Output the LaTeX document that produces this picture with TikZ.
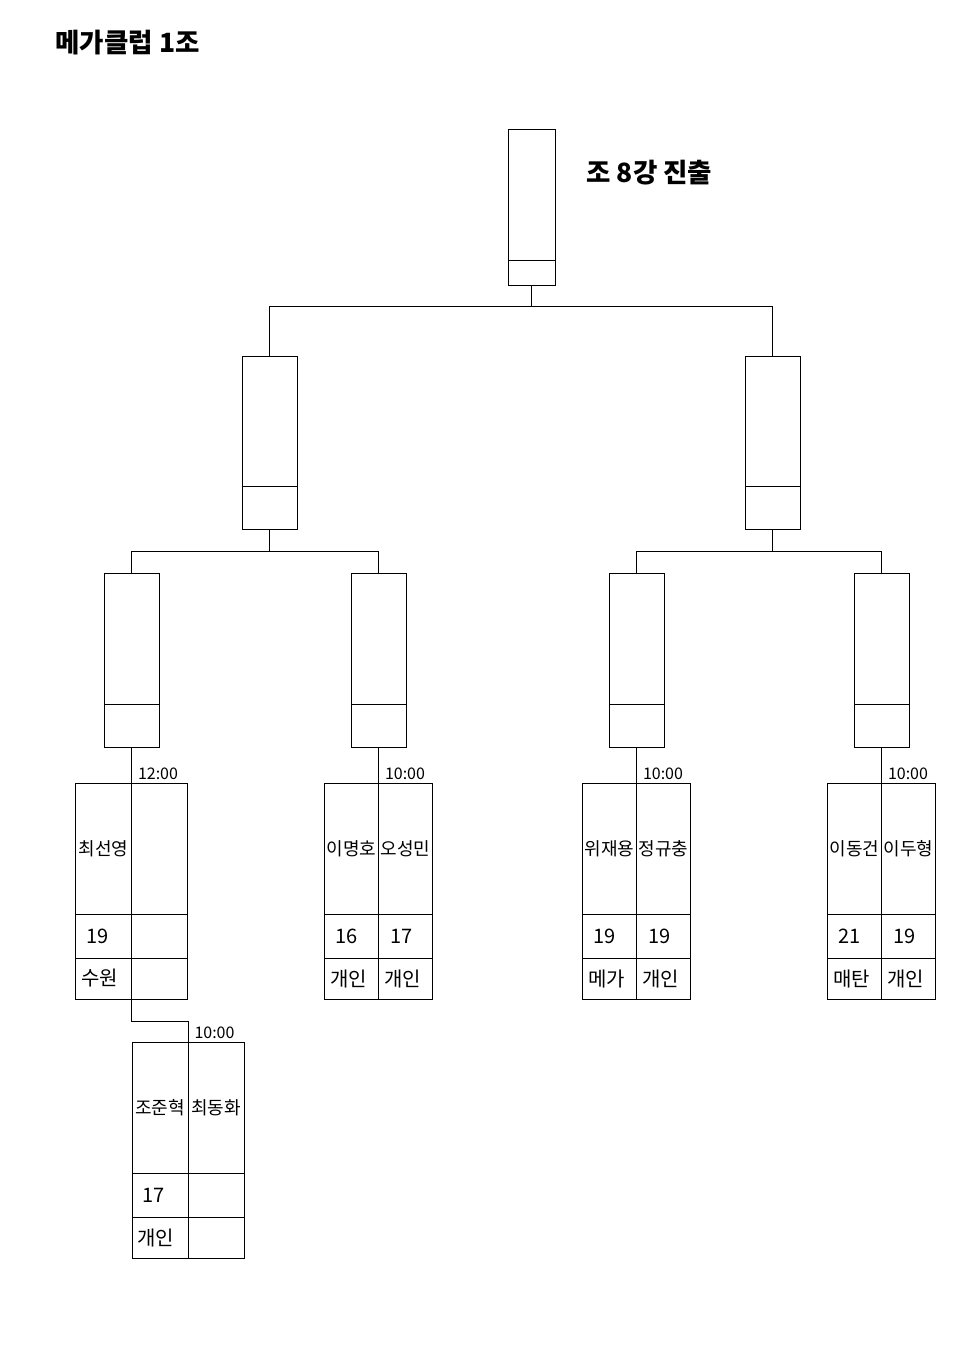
\documentclass[tikz,border=0pt]{standalone}
\usepackage{fontspec}
\setmainfont{Noto Sans CJK KR}
\usetikzlibrary{positioning}

\tikzset{
  slot/.style={draw, minimum width=55, minimum height=174, inner sep=0pt, outer sep=0pt},
  cell/.style={draw, inner sep=0pt, outer sep=0pt, minimum width=54},
  namecell/.style={cell, minimum height=131, font=\fontsize{18}{18}\selectfont},
  numcell/.style={cell, minimum height=44},
  teamcell/.style={cell, minimum height=41},
  celltxt/.style={anchor=west, inner sep=0pt, font=\fontsize{20}{20}\selectfont},
  timetxt/.style={anchor=south west, inner sep=1pt, font=\fontsize{16}{16}\selectfont},
  heading/.style={anchor=west, inner sep=0pt, font=\fontsize{26.5}{26.5}\selectfont\bfseries},
}

\begin{document}
\begin{tikzpicture}[x=1pt, y=-1pt, line width=1pt]
\useasboundingbox (0,0) rectangle (978,1348);

% 제목
\node[heading] (title) at (55,43) {메가클럽 1조};
\node[heading] (goal) at (586,173) {조 8강 진출};

% 결승 칸
\node[slot, minimum width=47, minimum height=155] (top) at (531.5,207.5) {};

% 준결승 칸
\node[slot, minimum height=173] (l2a) at (269.5,442.5) {};
\node[slot, minimum height=173] (l2b) at (772.5,442.5) {};

% 8강 칸
\foreach \n/\x in {l3a/131.5, l3b/378.5, l3c/636.5, l3d/881.5}
  \node[slot] (\n) at (\x,660) {};

% 칸 안의 가로줄
\foreach \n/\h in {top/25pt, l2a/43pt, l2b/43pt, l3a/43pt, l3b/43pt, l3c/43pt, l3d/43pt}
  \draw ([yshift=\h]\n.south west) -- ([yshift=\h]\n.south east);

% 연결선
\draw (top.south) -- ++(0,21) coordinate (j0) -| (l2a.north);
\draw (j0) -| (l2b.north);
\draw (l2a.south) -- ++(0,22) coordinate (j1) -| (l3a.north);
\draw (j1) -| (l3b.north);
\draw (l2b.south) -- ++(0,22) coordinate (j2) -| (l3c.north);
\draw (j2) -| (l3d.north);

% 경기 칸 (이름 / 나이 / 소속)
\foreach \k/\x/\y/\w/\na/\nb/\sa/\sb/\ta/\tb/\tm in {
    1/131.5/783/56/최선영/{}/19/{}/수원/{}/12:00,
    2/378.5/783/54/이명호/오성민/16/17/개인/개인/10:00,
    3/636.5/783/54/위재용/정규충/19/19/메가/개인/10:00,
    4/881.5/783/54/이동건/이두형/21/19/매탄/개인/10:00,
    5/188/1042/56/조준혁/최동화/17/{}/개인/{}/10:00} {
  \node[namecell, minimum width=\w, anchor=north east] (m\k-a) at (\x,\y) {\na};
  \node[namecell, minimum width=\w, anchor=north west] (m\k-b) at (\x,\y) {\nb};
  \node[numcell, minimum width=\w, below=0pt of m\k-a] (m\k-an) {};
  \node[numcell, minimum width=\w, below=0pt of m\k-b] (m\k-bn) {};
  \node[teamcell, minimum width=\w, below=0pt of m\k-an] (m\k-at) {};
  \node[teamcell, minimum width=\w, below=0pt of m\k-bn] (m\k-bt) {};
  \node[celltxt] at ([xshift=10pt]m\k-an.west) {\sa};
  \node[celltxt] at ([xshift=11pt]m\k-bn.west) {\sb};
  \node[celltxt] at ([xshift=5pt]m\k-at.west) {\ta};
  \node[celltxt] at ([xshift=5pt]m\k-bt.west) {\tb};
  \node[timetxt] at ([xshift=5pt,yshift=2pt]m\k-b.north west) {\tm};
}

% 경기 칸 연결
\foreach \n/\k in {l3a/1, l3b/2, l3c/3, l3d/4}
  \draw (\n.south) -- (m\k-a.north east);
\draw (m1-at.south east) -- ++(0,22) -| (m5-a.north east);
\end{tikzpicture}
\end{document}
